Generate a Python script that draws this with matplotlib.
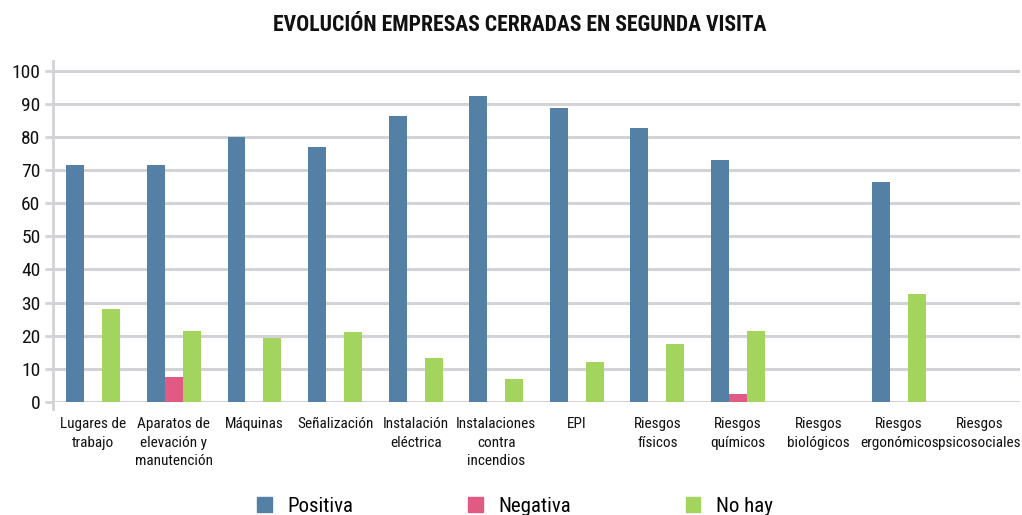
import matplotlib
matplotlib.use("Agg")
import matplotlib.pyplot as plt
from matplotlib import font_manager
import numpy as np

categories = ["Lugares de\ntrabajo", "Aparatos de\nelevación y\nmanutención", "Máquinas",
              "Señalización", "Instalación\neléctrica", "Instalaciones\ncontra\nincendios",
              "EPI", "Riesgos\nfísicos", "Riesgos\nquímicos", "Riesgos\nbiológicos",
              "Riesgos\nergonómicos", "Riesgos\npsicosociales"]
positiva = [71.5, 71.5, 80.0, 76.8, 86.3, 92.3, 88.8, 82.8, 72.9, 0, 66.5, 0]
negativa = [0, 7.6, 0, 0, 0, 0, 0, 0, 2.4, 0, 0, 0]
no_hay = [28.0, 21.4, 19.3, 21.1, 13.3, 6.9, 12.1, 17.6, 21.4, 0, 32.7, 0]
series_names = ["Positiva", "Negativa", "No hay"]
yticks = list(range(0, 101, 10))
title = "EVOLUCIÓN EMPRESAS CERRADAS EN SEGUNDA VISITA"

names = {f.name for f in font_manager.fontManager.ttflist}
narrow = "Liberation Sans"
for cand in ["Roboto Condensed", "Archivo Narrow", "Barlow Condensed", "Liberation Sans Narrow"]:
    if cand in names:
        narrow = cand
        break

colors = ["#5480a6", "#e05a84", "#a2d45e"]
grid_c = "#d2d2d7"

fig = plt.figure(figsize=(10.22, 5.15), dpi=100)
ax = fig.add_axes([53/1022, 1-402/515, (1020-53)/1022, (402-61)/515])

x = np.arange(len(categories))
w = 0.223
for i, (vals, c, n) in enumerate(zip([positiva, negativa, no_hay], colors, series_names)):
    ax.bar(x + (i-1)*w, vals, width=w, color=c, label=n, zorder=3)

ax.set_xlim(-0.5, len(categories)-0.5)
ax.set_ylim(0, 102.9)
ax.set_yticks(yticks)
ax.set_yticklabels([str(t) for t in yticks], fontfamily=narrow, fontsize=14, color="#111111")
ax.yaxis.grid(True, color=grid_c, linewidth=2.2, zorder=0)
ax.tick_params(axis="y", length=6, width=2, color=grid_c, pad=3)
ax.tick_params(axis="x", length=0, pad=11)
ax.set_xticks(x)
ax.set_xticklabels(categories, fontfamily=narrow, fontsize=11, color="#111111", linespacing=1.4, va="top")
for s in ["top", "right", "bottom"]:
    ax.spines[s].set_visible(False)
ax.spines["left"].set_color(grid_c)
ax.spines["left"].set_linewidth(2)
ax.spines["left"].set_bounds(-2, 102.9)

fig.text(520/1022, 1-25/515, title, ha="center", va="center", fontfamily=narrow,
         fontweight="bold", fontsize=15.6, color="#111111")

handles = [plt.Rectangle((0, 0), 1, 1, color=c) for c in colors]
leg = fig.legend(handles, series_names, loc="center", bbox_to_anchor=(515/1022, 1-506/515),
                 ncol=3, frameon=False, prop={"family": narrow, "size": 15},
                 handlelength=0.7, handleheight=0.7, columnspacing=5.5, handletextpad=0.75)

fig.savefig("out.png", dpi=100)
